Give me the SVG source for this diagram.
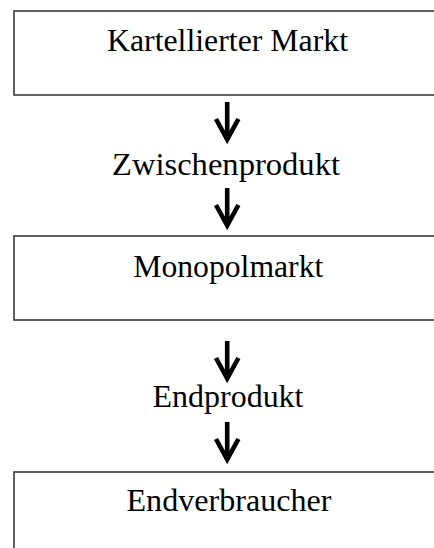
<svg xmlns="http://www.w3.org/2000/svg" width="434" height="548" viewBox="0 0 434 548">
<style>
.box{fill:#fff;stroke:#3a3a3a;stroke-width:1.6}
.lbl{font-family:"Liberation Serif","Times New Roman",serif;font-size:31px;fill:#000;text-anchor:middle}
.arr{fill:none;stroke:#000;stroke-width:4.6;stroke-linejoin:miter;stroke-miterlimit:10}
</style>
<rect width="434" height="548" fill="#fff"/>
<g id="node-kartell">
<rect class="box" x="14" y="11" width="440" height="84"/>
<text class="lbl" x="227.5" y="51" textLength="241" lengthAdjust="spacingAndGlyphs">Kartellierter Markt</text>
</g>
<g id="node-zwischen">
<text class="lbl" x="226" y="175" textLength="228" lengthAdjust="spacingAndGlyphs">Zwischenprodukt</text>
</g>
<g id="node-monopol">
<rect class="box" x="14" y="236" width="440" height="84"/>
<text class="lbl" x="228.3" y="277" textLength="190" lengthAdjust="spacingAndGlyphs">Monopolmarkt</text>
</g>
<g id="node-endprodukt">
<text class="lbl" x="228" y="407" textLength="151" lengthAdjust="spacingAndGlyphs">Endprodukt</text>
</g>
<g id="node-endverbraucher">
<rect class="box" x="14" y="472" width="440" height="100"/>
<text class="lbl" x="229" y="511" textLength="205" lengthAdjust="spacingAndGlyphs">Endverbraucher</text>
</g>
<g id="connectors">
<path class="arr" d="M227.2,102 V139 M216,119 L227.2,139.5 L238.4,119"/>
<path class="arr" d="M227.2,188 V225 M216,205 L227.2,225.5 L238.4,205"/>
<path class="arr" d="M227.2,341 V378 M216,358 L227.2,378.5 L238.4,358"/>
<path class="arr" d="M227.2,422 V459 M216,439 L227.2,459.5 L238.4,439"/>
</g>
</svg>
